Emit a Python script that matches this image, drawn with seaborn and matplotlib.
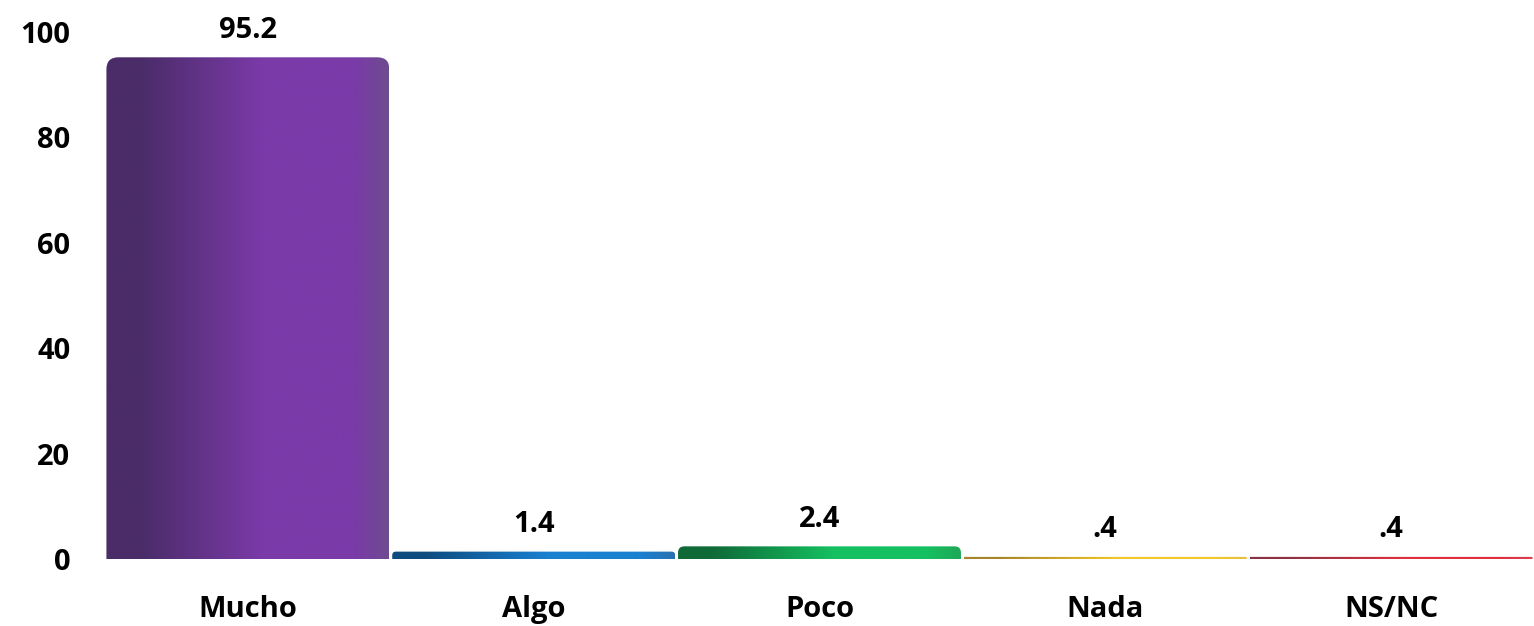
import numpy as np
import matplotlib
matplotlib.use("Agg")
import matplotlib.pyplot as plt
from matplotlib.colors import LinearSegmentedColormap
from matplotlib.patches import FancyBboxPatch
import seaborn as sns

categories = ["Mucho", "Algo", "Poco", "Nada", "NS/NC"]
values = [95.2, 1.4, 2.4, 0.4, 0.4]
value_labels = ["95.2", "1.4", "2.4", ".4", ".4"]
y_ticks = [0, 20, 40, 60, 80, 100]

base_colors = ["#7a3aa8", "#1a80d0", "#15c060", "#f2c82a", "#e0303e"]
dark_colors = ["#4a2c68", "#0e4c80", "#0f6a38", "#a8842a", "#8a3344"]
edge_colors = ["#6e4c90", "#2a70b0", "#1fa858", "#e6c040", "#d84050"]

sns.set_theme(style="white")
plt.rcParams["font.family"] = ["Open Sans", "DejaVu Sans"]
plt.rcParams["font.weight"] = "bold"

W, H = 1534, 626
fig = plt.figure(figsize=(W / 100, H / 100), dpi=100)
ax = fig.add_axes([105 / W, 1 - 559 / H, 1 - 105 / W, (559 - 32) / H])

sns.barplot(x=categories, y=values, hue=categories, palette=base_colors,
            legend=False, width=0.99, ax=ax, saturation=1.0, linewidth=0)

ax.set_xlim(-0.5, len(categories) - 0.5)
ax.set_ylim(0, 100)

# data units per pixel
ux = (len(categories)) / (W - 105)
uy = 100 / (559 - 32)
aspect = uy / ux

grad = np.linspace(0, 1, 256).reshape(1, -1)
for i, patch in enumerate(list(ax.patches)):
    x0 = patch.get_x()
    w = patch.get_width()
    h = patch.get_height()
    h_px = h / uy
    r_px = min(12.0, max(h_px / 2, 0.5))
    ext = r_px * uy  # extend below baseline to hide bottom rounding
    rounded = FancyBboxPatch((x0, -ext), w, h + ext,
                             boxstyle=f"round,pad=0,rounding_size={r_px * ux}",
                             mutation_aspect=aspect, transform=ax.transData,
                             facecolor="none", edgecolor="none")
    ax.add_patch(rounded)
    patch.set_facecolor("none")
    cmap = LinearSegmentedColormap.from_list(
        f"cyl{i}",
        [(0.0, dark_colors[i]), (0.12, dark_colors[i]), (0.55, base_colors[i]),
         (0.88, base_colors[i]), (1.0, edge_colors[i])])
    im = ax.imshow(grad, cmap=cmap, extent=[x0, x0 + w, 0, h], aspect="auto",
                   zorder=patch.get_zorder() + 0.1, interpolation="bilinear")
    im.set_clip_path(rounded)

for c, lab in zip(ax.containers, value_labels):
    ax.bar_label(c, labels=[lab], padding=9, fontsize=21, fontweight="bold",
                 color="black")

ax.set_xlim(-0.5, len(categories) - 0.5)
ax.set_ylim(0, 100)
ax.set_yticks(y_ticks)
ax.set_yticklabels([str(t) for t in y_ticks])
for s in ax.spines.values():
    s.set_visible(False)
ax.tick_params(axis="y", length=0, pad=25, labelsize=21)
ax.tick_params(axis="x", length=0, pad=26, labelsize=21)
for t in ax.get_xticklabels() + ax.get_yticklabels():
    t.set_fontweight("bold")
    t.set_color("black")
ax.set_xlabel("")
ax.set_ylabel("")
ax.grid(False)

fig.savefig("out.png", dpi=100)
